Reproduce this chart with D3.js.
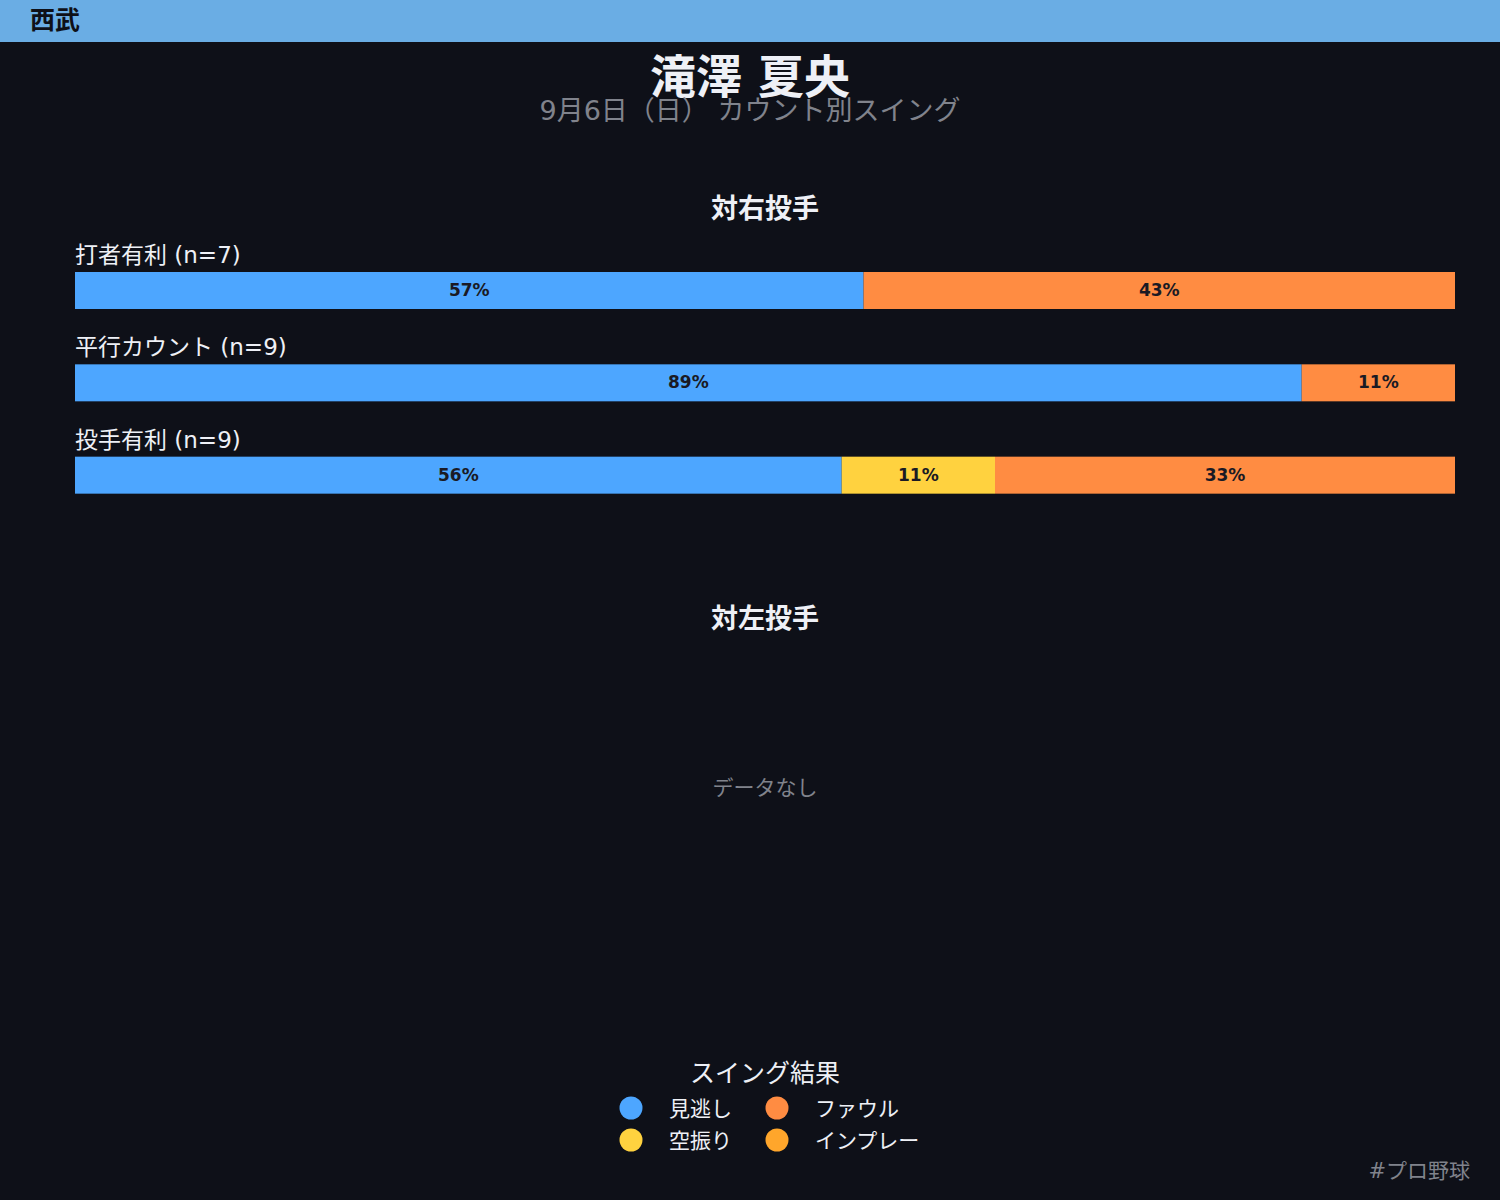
<!DOCTYPE html>
<html>
<head>
<meta charset="utf-8">
<script src="https://cdn.jsdelivr.net/npm/d3@7"></script>
<style>
  html, body { margin: 0; padding: 0; background: #0e1018; }
  svg { display: block; }
  text { font-family: "DejaVu Sans", "Noto Sans CJK JP", sans-serif; }
</style>
</head>
<body>
<script>
(function() {
    'use strict';

    // データ
    var team = "西武";
    var player = "滝澤 夏央";
    var subtitle = "9月6日（日） カウント別スイング";
    var outcomes = ["見逃し", "空振り", "ファウル", "インプレー"];
    var outcomeColors = ["#4da6ff", "#ffd23f", "#ff8c42", "#ffa62b"];
    var countsRight = ["打者有利", "平行カウント", "投手有利"];
    var rightValues = [
        [4, 0, 3, 0],
        [8, 0, 1, 0],
        [5, 1, 3, 0]
    ];
    var legendOrder = ["見逃し", "ファウル", "空振り", "インプレー"];

    var w = 1500;
    var h = 1200;
    var svg = d3.select("body")
                .append("svg")
                .attr("width", w)
                .attr("height", h);

    svg.append("rect")
       .attr("width", w).attr("height", h)
       .attr("fill", "#0e1018");

    // ヘッダー
    svg.append("rect")
       .attr("width", w).attr("height", 42)
       .attr("fill", "#6aade4");
    svg.append("text")
       .attr("x", 30).attr("y", 29)
       .attr("font-size", 25).attr("font-weight", "bold")
       .attr("fill", "#0e1018")
       .text(team);

    // タイトル
    svg.append("text")
       .attr("x", 750).attr("y", 93)
       .attr("text-anchor", "middle")
       .attr("font-size", 46).attr("font-weight", "bold")
       .attr("fill", "#eef0f6")
       .text(player);
    svg.append("text")
       .attr("x", 750).attr("y", 120)
       .attr("text-anchor", "middle")
       .attr("font-size", 27)
       .attr("fill", "#80838c")
       .text(subtitle);

    // 対右投手
    svg.append("text")
       .attr("x", 765).attr("y", 218)
       .attr("text-anchor", "middle")
       .attr("font-size", 27).attr("font-weight", "bold")
       .attr("fill", "#eef0f6")
       .text("対右投手");

    var x = d3.scaleLinear().domain([0, 1]).range([75, 1455]);
    var y = d3.scaleBand().domain(countsRight).range([244, 521]).paddingInner(0);
    var color = d3.scaleOrdinal().domain(outcomes).range(outcomeColors);

    var rows = svg.selectAll("g.row")
                  .data(countsRight)
                  .enter()
                  .append("g")
                  .attr("class", "row")
                  .attr("transform", function(d) {
                      return "translate(0," + y(d) + ")";
                  });

    rows.append("text")
        .attr("x", 75).attr("y", 19)
        .attr("font-size", 23)
        .attr("fill", "#eef0f6")
        .text(function(d, i) {
            return d + " (n=" + d3.sum(rightValues[i]) + ")";
        });

    rows.each(function(d, i) {
        var vals = rightValues[i];
        var total = d3.sum(vals);
        var cum = 0;
        var segs = [];
        vals.forEach(function(v, j) {
            if (v > 0) {
                segs.push({ key: outcomes[j], x0: cum / total, x1: (cum + v) / total, p: v / total });
            }
            cum += v;
        });
        var g = d3.select(this);
        g.selectAll("rect")
         .data(segs)
         .enter()
         .append("rect")
         .attr("x", function(s) { return x(s.x0); })
         .attr("y", 28)
         .attr("width", function(s) { return x(s.x1) - x(s.x0); })
         .attr("height", 37)
         .attr("fill", function(s) { return color(s.key); });
        g.selectAll("text.pct")
         .data(segs)
         .enter()
         .append("text")
         .attr("class", "pct")
         .attr("x", function(s) { return (x(s.x0) + x(s.x1)) / 2; })
         .attr("y", 52)
         .attr("text-anchor", "middle")
         .attr("font-size", 17).attr("font-weight", "bold")
         .attr("fill", "#1a1a24")
         .text(function(s) { return Math.round(s.p * 100) + "%"; });
    });

    // 対左投手
    svg.append("text")
       .attr("x", 765).attr("y", 628)
       .attr("text-anchor", "middle")
       .attr("font-size", 27).attr("font-weight", "bold")
       .attr("fill", "#eef0f6")
       .text("対左投手");
    svg.append("text")
       .attr("x", 765).attr("y", 795)
       .attr("text-anchor", "middle")
       .attr("font-size", 21)
       .attr("fill", "#80838c")
       .text("データなし");

    // 凡例
    svg.append("text")
       .attr("x", 765).attr("y", 1082)
       .attr("text-anchor", "middle")
       .attr("font-size", 25)
       .attr("fill", "#eef0f6")
       .text("スイング結果");

    var leg = svg.selectAll("g.leg")
                 .data(legendOrder)
                 .enter()
                 .append("g")
                 .attr("class", "leg")
                 .attr("transform", function(d, i) {
                     return "translate(" + (631 + (i % 2) * 146) + "," + (1108 + Math.floor(i / 2) * 32) + ")";
                 });
    leg.append("circle")
       .attr("r", 11.5)
       .attr("fill", function(d) { return color(d); });
    leg.append("text")
       .attr("x", 38).attr("y", 8)
       .attr("font-size", 21)
       .attr("fill", "#eef0f6")
       .text(function(d) { return d; });

    // フッター
    svg.append("text")
       .attr("x", 1470).attr("y", 1178)
       .attr("text-anchor", "end")
       .attr("font-size", 21)
       .attr("fill", "#80838c")
       .text("#プロ野球");
}());
</script>
</body>
</html>
